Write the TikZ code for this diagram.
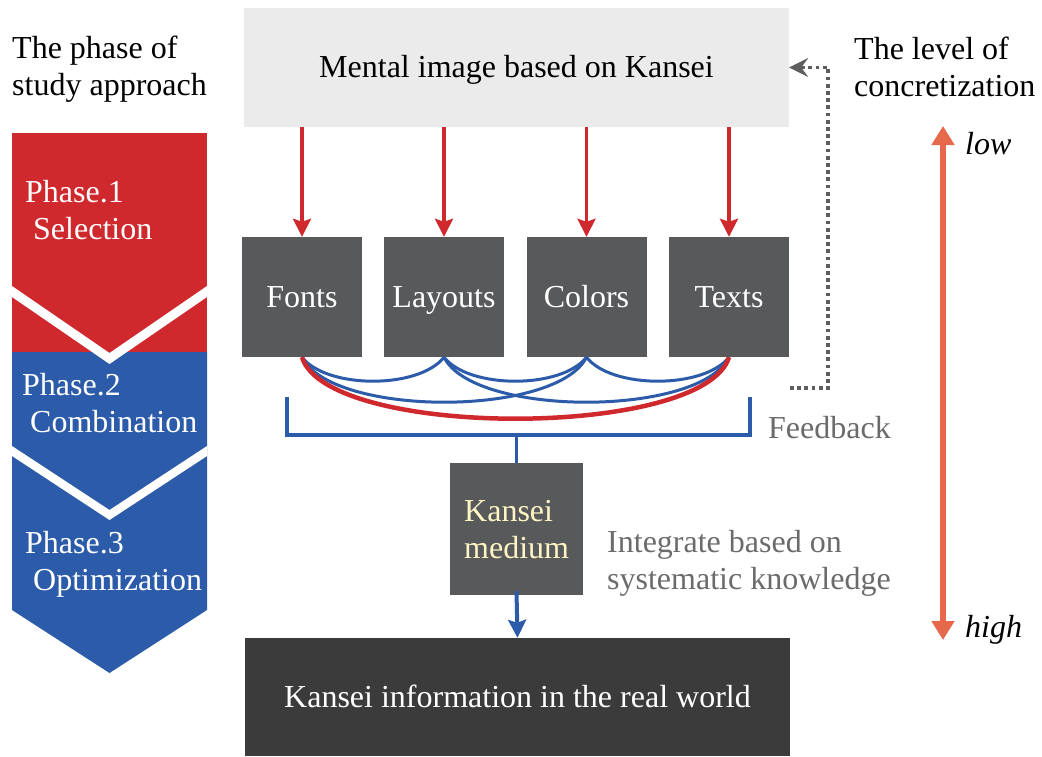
\documentclass[tikz,border=0pt]{standalone}
\usepackage{fontspec}
\setmainfont{Liberation Serif}
\usetikzlibrary{arrows.meta}
\definecolor{kred}{HTML}{CF292D}
\definecolor{kblue}{HTML}{2C5CA9}
\definecolor{kdark}{HTML}{58595B}
\definecolor{kdarker}{HTML}{3B3B3B}
\definecolor{klight}{HTML}{EBEBEB}
\definecolor{korange}{HTML}{E6694B}
\definecolor{kgray}{HTML}{6B6B6B}
\definecolor{kdot}{HTML}{5E5E5E}
\definecolor{kcream}{HTML}{FFF5C4}
\begin{document}
\begin{tikzpicture}[x=1pt,y=-1pt,
  font=\fontsize{32}{37}\selectfont,
  elem/.style={fill=kdark, text=white, minimum width=120pt, minimum height=120pt, inner sep=0pt, text height=25pt, text depth=4pt},
  plain/.style={inner sep=0pt, align=left},
  redarrow/.style={draw=kred, line width=3.4pt, -{Stealth[length=18pt,width=18pt,inset=3pt]}},
  bluearrow/.style={draw=kblue, line width=4pt, -{Stealth[length=18pt,width=18pt,inset=3pt]}},
  arcblue/.style={draw=kblue, line width=3pt},
  arcred/.style={draw=kred, line width=4.5pt},
  bracket/.style={draw=kblue, line width=3.5pt},
  feedback/.style={draw=kdot, line width=3.8pt, dash pattern=on 3.8pt off 3.4pt, -{Stealth[length=19pt,width=19pt,inset=7pt]}},
  level/.style={draw=korange, line width=6pt, {Triangle[length=19pt,width=22pt]}-{Triangle[length=19pt,width=22pt]}}
]
\useasboundingbox[fill=white] (0,0) rectangle (1042,756);

% left phase column
\fill[kred] (12,133) rectangle (207,352);
\fill[kblue] (12,352) -- (207,352) -- (207,610) -- (109.5,673) -- (12,610) -- cycle;
\fill[white] (12,286) -- (109.5,353) -- (207,286) -- (207,297) -- (109.5,364) -- (12,297) -- cycle;
\fill[white] (12,446) -- (109.5,510) -- (207,446) -- (207,456) -- (109.5,520) -- (12,456) -- cycle;
\node[plain, text=white, anchor=west] (p1) at (25,210) {Phase.1\\\hspace*{8pt}Selection};
\node[plain, text=white, anchor=west] (p2) at (22,403) {Phase.2\\\hspace*{8pt}Combination};
\node[plain, text=white, anchor=west] (p3) at (25,564) {Phase.3\\\hspace*{8pt}Optimization};

% headings
\node[plain, anchor=west] (phase) at (12,69) {The phase of\\study approach};
\node[plain, anchor=west] (level) at (854,67) {The level of\\concretization};

% main boxes
\node[fill=klight, minimum width=545pt, minimum height=119pt, inner sep=0pt, text height=24pt, text depth=5pt] (top) at (516.5,67.5) {Mental image based on Kansei};
\node[elem] (fonts) at (302,297) {Fonts};
\node[elem] (layouts) at (444,297) {Layouts};
\node[elem] (colors) at (586.5,297) {Colors};
\node[elem] (texts) at (729,297) {Texts};
\node[fill=kdark, minimum width=133pt, minimum height=132pt, inner sep=0pt] (medium) at (516.5,529) {};
\node[plain, text=kcream, anchor=west] (mediumtext) at (464,530) {Kansei\\medium};
\node[fill=kdarker, text=white, minimum width=545pt, minimum height=118pt, inner sep=0pt, text height=25pt, text depth=4pt] (real) at (517.5,697) {Kansei information in the real world};

% red arrows
\draw[redarrow] (top.south -| fonts.north) -- (fonts.north);
\draw[redarrow] (top.south -| layouts.north) -- (layouts.north);
\draw[redarrow] (top.south -| colors.north) -- (colors.north);
\draw[redarrow] (top.south -| texts.north) -- (texts.north);

% combination arcs
\draw[arcblue] (fonts.south) .. controls +(25,32) and +(-25,32) .. (layouts.south);
\draw[arcblue] (layouts.south) .. controls +(25,32) and +(-25,32) .. (colors.south);
\draw[arcblue] (colors.south) .. controls +(25,32) and +(-25,32) .. (texts.south);
\draw[arcblue] (fonts.south) .. controls +(30,60) and +(-30,60) .. (colors.south);
\draw[arcblue] (layouts.south) .. controls +(30,60) and +(-30,60) .. (texts.south);
\draw[arcred] (fonts.south) .. controls +(25,82) and +(-25,82) .. (texts.south);

% bracket
\coordinate (bl) at (287,397);
\coordinate (br) at (750,397);
\coordinate (bm) at (516.5,435);
\draw[bracket] (bl) -- (bl |- bm) -- (br |- bm) -- (br);
\draw[bracket] (bm) -- (medium.north);
\draw[bluearrow] ([yshift=4pt]medium.south) -- (real.north);

% feedback
\coordinate (fbstart) at (790,388);
\draw[feedback] (fbstart) -- ++(38,0) |- (top.east);
\node[plain, text=kgray] (fbtext) at (829.5,428) {Feedback};
\node[plain, text=kgray, anchor=west] (integ) at (607,563) {Integrate based on\\systematic knowledge};

% level arrow
\node[plain, anchor=west] (low) at (965,144) {\itshape low};
\node[plain, anchor=west] (high) at (965,630) {\itshape high};
\coordinate (lowtip) at (943,126);
\coordinate (hightip) at (943,640);
\draw[level] (lowtip) -- (hightip);
\end{tikzpicture}
\end{document}
